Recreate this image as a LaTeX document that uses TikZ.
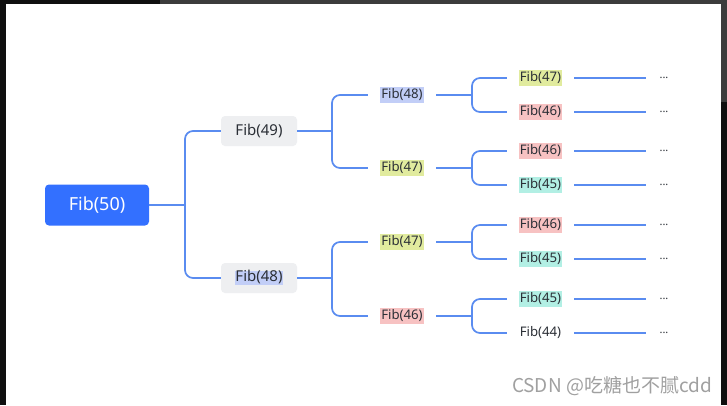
\documentclass[tikz,border=0pt]{standalone}
\usepackage{fontspec}
\setmainfont{Noto Sans}
\newfontfamily\cjk{Noto Sans CJK SC}
\definecolor{bgdark}{HTML}{0F0F0F}
\definecolor{bggray}{HTML}{3C3C3C}
\definecolor{rootc}{HTML}{3370FF}
\definecolor{lonec}{HTML}{EEEFF1}
\definecolor{linec}{HTML}{5A8CF0}
\definecolor{txt}{HTML}{2B2F36}
\definecolor{hlblue}{HTML}{C2CEF7}
\definecolor{hlgreen}{HTML}{E1EB9E}
\definecolor{hlred}{HTML}{F7C2C2}
\definecolor{hlteal}{HTML}{B2EFE4}
\definecolor{wmc}{HTML}{A0A0A0}
\newcommand\hlsmall[2]{{\setlength\fboxsep{1pt}\colorbox{#1}{\rule[-4pt]{0pt}{14pt}#2}}}
\newcommand\hlbig[2]{{\setlength\fboxsep{0pt}\colorbox{#1}{\rule[-3.5pt]{0pt}{13.5pt}#2}}}
\begin{document}
\begin{tikzpicture}[x=1pt,y=-1pt,
  conn/.style={draw=linec, line width=1.7pt, rounded corners=8pt},
  rootbox/.style={fill=rootc, rounded corners=4pt, minimum width=104pt, minimum height=41pt, text=white, font=\fontsize{18}{21}\selectfont, inner sep=0pt},
  lonebox/.style={fill=lonec, rounded corners=4pt, minimum width=76pt, minimum height=30pt, text=txt, font=\fontsize{15}{18}\selectfont, inner sep=0pt},
  ltwobox/.style={minimum width=68pt, inner sep=0pt, text=txt, font=\fontsize{13.2}{15}\selectfont},
  lthreebox/.style={minimum width=67pt, inner sep=0pt, text=txt, font=\fontsize{13.2}{15}\selectfont},
  dotbox/.style={minimum width=36pt, inner sep=0pt, text=txt, font=\fontsize{11}{13}\selectfont}]
\useasboundingbox (0,0) rectangle (727,405);
\fill[bgdark] (0,0) rectangle (727,405);
\fill[bggray] (160,0) rectangle (727,4);
\fill[bggray] (721,0) rectangle (727,102);
\fill[white] (6,4) rectangle (721,405);

\node[rootbox] (r) at (97,205) {Fib(50)};
\node[lonebox] (a) at (259,131) {Fib(49)};
\node[lonebox] (b) at (259,278) {\hlbig{hlblue}{Fib(48)}};

\node[ltwobox] (a1) at (402,95) {\hlsmall{hlblue}{Fib(48)}};
\node[ltwobox] (a2) at (402,168) {\hlsmall{hlgreen}{Fib(47)}};
\node[ltwobox] (b1) at (402,242) {\hlsmall{hlgreen}{Fib(47)}};
\node[ltwobox] (b2) at (402,316) {\hlsmall{hlred}{Fib(46)}};

\node[lthreebox] (a11) at (540.5,78) {\hlsmall{hlgreen}{Fib(47)}};
\node[lthreebox] (a12) at (540.5,112) {\hlsmall{hlred}{Fib(46)}};
\node[lthreebox] (a21) at (540.5,151) {\hlsmall{hlred}{Fib(46)}};
\node[lthreebox] (a22) at (540.5,185) {\hlsmall{hlteal}{Fib(45)}};
\node[lthreebox] (b11) at (540.5,225) {\hlsmall{hlred}{Fib(46)}};
\node[lthreebox] (b12) at (540.5,259) {\hlsmall{hlteal}{Fib(45)}};
\node[lthreebox] (b21) at (540.5,299) {\hlsmall{hlteal}{Fib(45)}};
\node[lthreebox] (b22) at (540.5,333) {Fib(44)};

\foreach \n/\y in {a11/78,a12/112,a21/151,a22/185,b11/225,b12/259,b21/299,b22/333}{
  \node[dotbox] (d\n) at (664,\y) {...};
  \draw[conn] (\n.east) -- (\n.east -| d\n.west);
}

\coordinate (j0) at (185,205);
\coordinate (j1) at (332,131);
\coordinate (j2) at (332,278);
\coordinate (j3) at (472,95);
\coordinate (j4) at (472,168);
\coordinate (j5) at (472,242);
\coordinate (j6) at (472,316);

\draw[conn] (r.east) -- (j0);
\draw[conn] (a.west) -| (j0) |- (b.west);
\draw[conn] (a.east) -- (j1);
\draw[conn] (a1.west) -| (j1) |- (a2.west);
\draw[conn] (b.east) -- (j2);
\draw[conn] (b1.west) -| (j2) |- (b2.west);
\draw[conn] (a1.east) -- (j3);
\draw[conn] (a11.west) -| (j3) |- (a12.west);
\draw[conn] (a2.east) -- (j4);
\draw[conn] (a21.west) -| (j4) |- (a22.west);
\draw[conn] (b1.east) -- (j5);
\draw[conn] (b11.west) -| (j5) |- (b12.west);
\draw[conn] (b2.east) -- (j6);
\draw[conn] (b21.west) -| (j6) |- (b22.west);

\node[anchor=east, inner sep=0pt, text=wmc, font=\cjk\fontsize{19}{21}\selectfont] (wm) at (712,386) {CSDN @吃糖也不腻cdd};
\end{tikzpicture}
\end{document}
